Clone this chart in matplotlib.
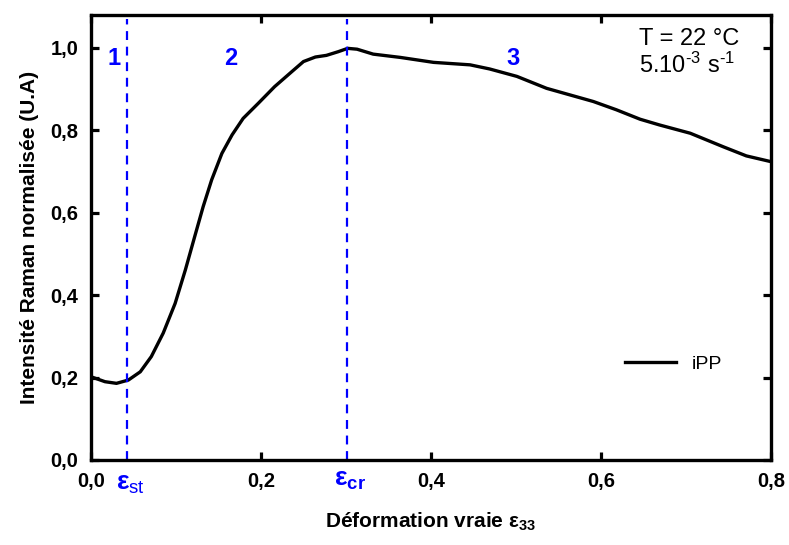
import numpy as np
import matplotlib
matplotlib.use("Agg")
import matplotlib.pyplot as plt
from matplotlib.ticker import FuncFormatter

plt.rcParams['font.family'] = ['Liberation Sans', 'DejaVu Sans']
plt.rcParams['mathtext.fontset'] = 'custom'
plt.rcParams['mathtext.rm'] = 'Liberation Sans'
plt.rcParams['mathtext.it'] = 'Liberation Sans'
plt.rcParams['mathtext.bf'] = 'Liberation Sans:bold'

# courbe iPP
strain = [0.0, 0.0165, 0.030, 0.044, 0.058, 0.071, 0.085, 0.099, 0.111, 0.122,
          0.132, 0.142, 0.154, 0.166, 0.179, 0.197, 0.216, 0.236, 0.250, 0.264,
          0.277, 0.291, 0.302, 0.313, 0.332, 0.364, 0.403, 0.446, 0.469, 0.501,
          0.536, 0.591, 0.618, 0.646, 0.669, 0.705, 0.744, 0.771, 0.8]
intensity = [0.202, 0.190, 0.186, 0.194, 0.214, 0.251, 0.308, 0.380, 0.461, 0.542,
             0.615, 0.680, 0.744, 0.789, 0.829, 0.866, 0.906, 0.942, 0.967, 0.978,
             0.982, 0.991, 0.999, 0.997, 0.985, 0.977, 0.965, 0.959, 0.949, 0.931,
             0.902, 0.870, 0.850, 0.827, 0.813, 0.793, 0.760, 0.738, 0.724]

eps_st = 0.042
eps_cr = 0.301
zones = ["1", "2", "3"]
zone_x = [0.027, 0.164, 0.497]

fig = plt.figure(figsize=(7.89, 5.45), dpi=100)
ax = fig.add_axes([0.1153, 0.156, 0.8619, 0.8165])

ax.plot(strain, intensity, color="black", lw=2.4, label="iPP")
for xv in [eps_st, eps_cr]:
    ax.axvline(xv, ymax=0.99, color="blue", ls=(0, (4, 3)), lw=1.6)

for z, zx in zip(zones, zone_x):
    ax.text(zx, 0.975, z, color="blue", fontsize=17, fontweight="bold",
            ha="center", va="center")

ax.text(0.806, 0.97, "T = 22 °C\n5.10$^{\u20103}$ s$^{\u20101}$", transform=ax.transAxes,
        ha="left", va="top", fontsize=17, linespacing=1.1, multialignment="left")

ax.set_xlim(0, 0.8)
ax.set_ylim(0, 1.08)
ax.set_xticks([0, 0.2, 0.4, 0.6, 0.8])
ax.set_yticks([0, 0.2, 0.4, 0.6, 0.8, 1.0])
fmt = FuncFormatter(lambda v, p: f"{v:.1f}".replace(".", ","))
ax.xaxis.set_major_formatter(fmt)
ax.yaxis.set_major_formatter(fmt)
ax.tick_params(direction="in", top=True, right=True, length=6, width=2.3,
               labelsize=14.5)
ax.tick_params(axis="x", pad=9)
ax.tick_params(axis="y", pad=9)
for lab in ax.get_xticklabels() + ax.get_yticklabels():
    lab.set_fontweight("bold")
for s in ax.spines.values():
    s.set_linewidth(2.4)

# epsilon sous l'axe
ax.text(eps_st + 0.004, -0.03, "ε$_{\\mathrm{st}}$", color="blue", fontsize=19,
        fontweight="bold", ha="center", va="top")
ax.text(eps_cr + 0.004, -0.02, "ε$_{\\mathbf{cr}}$", color="blue", fontsize=19,
        fontweight="bold", ha="center", va="top")

ax.set_xlabel("Déformation vraie ε$_{\\mathbf{33}}$", fontsize=15, fontweight="bold", labelpad=14)
ax.set_ylabel("Intensité Raman normalisée (U.A)", fontsize=15, fontweight="bold", labelpad=8)

ax.legend(loc="center left", bbox_to_anchor=(0.76, 0.215), frameon=False, fontsize=14,
          handlelength=2.6, handletextpad=0.8)

fig.savefig("out.png", dpi=100)
